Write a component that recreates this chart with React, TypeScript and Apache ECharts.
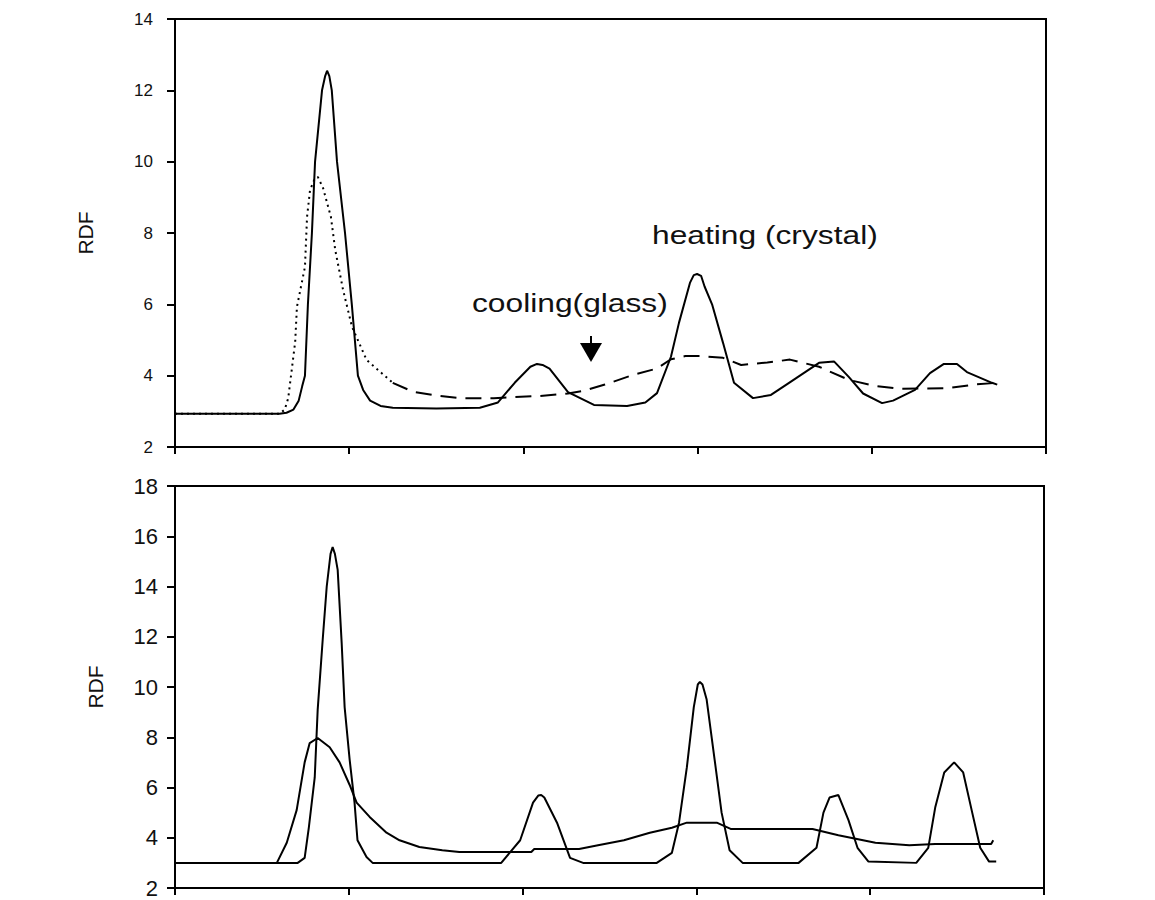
import React, { useEffect, useRef } from "react";
import * as echarts from "echarts";

// ---- Top panel (heating: crystal solid, cooling: glass dotted/dashed) ----
const topHeatX = [0, 0.6, 0.64, 0.68, 0.71, 0.73, 0.746, 0.763, 0.786, 0.804, 0.844, 0.862, 0.873, 0.886, 0.9, 0.93, 0.976, 1.015, 1.05, 1.08, 1.12, 1.18, 1.25, 1.5, 1.75, 1.854, 1.95, 2.04, 2.078, 2.11, 2.15, 2.256, 2.405, 2.595, 2.7, 2.767, 2.847, 2.893, 2.956, 2.978, 2.997, 3.02, 3.04, 3.083, 3.146, 3.209, 3.318, 3.421, 3.525, 3.697, 3.783, 3.869, 3.95, 4.059, 4.122, 4.248, 4.334, 4.414, 4.489, 4.546, 4.69, 4.72];
const topHeatY = [2.93, 2.93, 2.96, 3.05, 3.3, 3.7, 4.0, 6.0, 8.0, 10.0, 12.0, 12.4, 12.55, 12.4, 12.0, 10.0, 8.0, 6.0, 4.0, 3.6, 3.3, 3.15, 3.1, 3.08, 3.1, 3.25, 3.8, 4.25, 4.33, 4.3, 4.2, 3.54, 3.18, 3.15, 3.25, 3.51, 4.53, 5.48, 6.6, 6.82, 6.85, 6.8, 6.5, 6.0, 4.92, 3.8, 3.37, 3.46, 3.8, 4.36, 4.4, 3.96, 3.5, 3.23, 3.3, 3.6, 4.07, 4.33, 4.33, 4.1, 3.8, 3.75];

const topCoolX = [0, 0.6, 0.63, 0.65, 0.69, 0.7, 0.746, 0.758, 0.775, 0.8, 0.82, 0.85, 0.895, 0.92, 0.965, 1.016, 1.1, 1.25, 1.366, 1.52, 1.64, 1.83, 2.09, 2.256, 2.342, 2.468, 2.635, 2.767, 2.847, 2.93, 3.02, 3.146, 3.25, 3.4, 3.53, 3.697, 3.869, 4.01, 4.16, 4.437, 4.587, 4.72];
const topCoolY = [2.93, 2.93, 3.05, 3.37, 4.95, 5.93, 7.05, 8.45, 9.2, 9.5, 9.57, 9.26, 8.45, 7.52, 6.4, 5.37, 4.44, 3.8, 3.55, 3.43, 3.37, 3.37, 3.43, 3.5, 3.57, 3.75, 4.03, 4.2, 4.46, 4.55, 4.55, 4.5, 4.3, 4.37, 4.45, 4.25, 3.88, 3.72, 3.63, 3.65, 3.75, 3.8];
const topCoolDottedUntil = 1.3;

// ---- Bottom panel ----
const botCrystalX = [0, 0.706, 0.746, 0.77, 0.804, 0.821, 0.85, 0.873, 0.895, 0.907, 0.92, 0.936, 0.959, 0.976, 1.005, 1.033, 1.05, 1.102, 1.137, 1.877, 1.986, 2.06, 2.09, 2.107, 2.125, 2.198, 2.273, 2.348, 2.772, 2.859, 2.9, 2.945, 2.985, 3.008, 3.02, 3.035, 3.059, 3.105, 3.145, 3.191, 3.266, 3.588, 3.691, 3.731, 3.766, 3.817, 3.875, 3.927, 3.99, 4.265, 4.334, 4.374, 4.426, 4.483, 4.535, 4.587, 4.633, 4.684, 4.725];
const botCrystalY = [3.0, 3.0, 3.2, 4.4, 6.4, 9.1, 11.9, 14.0, 15.3, 15.57, 15.3, 14.66, 11.75, 9.2, 7.1, 5.4, 3.9, 3.23, 3.0, 3.0, 3.9, 5.4, 5.68, 5.7, 5.6, 4.6, 3.2, 3.0, 3.0, 3.4, 4.6, 6.8, 9.2, 10.1, 10.2, 10.1, 9.5, 7.1, 5.0, 3.5, 3.0, 3.0, 3.6, 5.0, 5.6, 5.7, 4.7, 3.6, 3.05, 3.0, 3.6, 5.2, 6.6, 7.0, 6.6, 5.0, 3.6, 3.05, 3.05];

const botGlassX = [0, 0.586, 0.643, 0.7, 0.746, 0.775, 0.821, 0.89, 0.947, 1.005, 1.045, 1.12, 1.217, 1.292, 1.406, 1.538, 1.636, 2.05, 2.067, 2.325, 2.434, 2.583, 2.732, 2.859, 2.945, 3.117, 3.197, 3.668, 3.817, 4.03, 4.225, 4.374, 4.696, 4.708];
const botGlassY = [3.0, 3.0, 3.8, 5.1, 7.0, 7.77, 7.97, 7.6, 7.0, 6.1, 5.4, 4.83, 4.2, 3.9, 3.63, 3.5, 3.43, 3.43, 3.55, 3.55, 3.7, 3.9, 4.2, 4.4, 4.6, 4.6, 4.35, 4.35, 4.1, 3.8, 3.7, 3.75, 3.75, 3.9];

const topYTicks = { min: 2, max: 14, interval: 2 };
const botYTicks = { min: 2, max: 18, interval: 2 };
const xRange = { min: 0, max: 5, interval: 1 };

const zip = (xs: number[], ys: number[]) => xs.map((x, i) => [x, ys[i]]);

const FONT = "'Liberation Sans', Arial, sans-serif";

export default function App() {
  const ref = useRef<HTMLDivElement>(null);
  useEffect(() => {
    if (!ref.current) return;
    const chart = echarts.init(ref.current, undefined, { renderer: "svg" });

    const cool = zip(topCoolX, topCoolY);
    const split = topCoolX.findIndex((x) => x > topCoolDottedUntil);
    const coolDotted = cool.slice(0, split);
    const coolDashed = cool.slice(split - 1);

    const axisLineStyle = { color: "#000", width: 2 };
    const xAxisBase = {
      type: "value" as const,
      ...xRange,
      axisLine: { show: true, lineStyle: axisLineStyle, onZero: false },
      axisTick: { show: true, inside: false, length: 7, lineStyle: axisLineStyle },
      axisLabel: { show: false },
      splitLine: { show: false },
    };
    const yAxisBase = {
      type: "value" as const,
      axisLine: { show: true, lineStyle: axisLineStyle, onZero: false },
      axisTick: { show: true, inside: false, length: 8, lineStyle: axisLineStyle },
      splitLine: { show: false },
    };
    const lineBase = {
      type: "line" as const,
      showSymbol: false,
      symbol: "none",
      smooth: false,
      color: "#000",
    };

    chart.setOption({
      animation: false,
      backgroundColor: "#fff",
      grid: [
        { left: 175, top: 19, width: 871, height: 428, show: true, borderColor: "#000", borderWidth: 2, backgroundColor: "transparent" },
        { left: 175, top: 486, width: 869, height: 402, show: true, borderColor: "#000", borderWidth: 2, backgroundColor: "transparent" },
      ],
      xAxis: [
        { ...xAxisBase, gridIndex: 0 },
        { ...xAxisBase, gridIndex: 1 },
      ],
      yAxis: [
        {
          ...yAxisBase,
          gridIndex: 0,
          ...topYTicks,
          axisLabel: { margin: 22, fontSize: 17, color: "#111", fontFamily: FONT },
        },
        {
          ...yAxisBase,
          gridIndex: 1,
          ...botYTicks,
          axisLabel: { margin: 17, fontSize: 22, color: "#111", fontFamily: FONT },
        },
      ],
      series: [
        { ...lineBase, name: "heating (crystal)", xAxisIndex: 0, yAxisIndex: 0, data: zip(topHeatX, topHeatY), lineStyle: { color: "#000", width: 2 } },
        { ...lineBase, name: "cooling (glass) dotted", xAxisIndex: 0, yAxisIndex: 0, data: coolDotted, lineStyle: { color: "#000", width: 2, type: [2, 4] } },
        { ...lineBase, name: "cooling (glass)", xAxisIndex: 0, yAxisIndex: 0, data: coolDashed, lineStyle: { color: "#000", width: 2, type: [16, 9] } },
        { ...lineBase, name: "crystal", xAxisIndex: 1, yAxisIndex: 1, data: zip(botCrystalX, botCrystalY), lineStyle: { color: "#000", width: 2 } },
        { ...lineBase, name: "glass", xAxisIndex: 1, yAxisIndex: 1, data: zip(botGlassX, botGlassY), lineStyle: { color: "#000", width: 2 } },
      ],
      graphic: [
        {
          type: "text",
          x: 85,
          y: 233,
          rotation: Math.PI / 2,
          style: { text: "RDF", fontSize: 21, fontFamily: FONT, fill: "#111", textAlign: "center", textVerticalAlign: "middle" },
        },
        {
          type: "text",
          x: 95,
          y: 687,
          rotation: Math.PI / 2,
          style: { text: "RDF", fontSize: 21, fontFamily: FONT, fill: "#111", textAlign: "center", textVerticalAlign: "middle" },
        },
        {
          type: "text",
          x: 652,
          y: 235,
          scaleX: 1.27,
          style: { text: "heating (crystal)", fontSize: 25, fontFamily: FONT, fill: "#111", textAlign: "left", textVerticalAlign: "middle" },
        },
        {
          type: "text",
          x: 472,
          y: 303,
          scaleX: 1.27,
          style: { text: "cooling(glass)", fontSize: 25, fontFamily: FONT, fill: "#111", textAlign: "left", textVerticalAlign: "middle" },
        },
        {
          type: "line",
          shape: { x1: 591, y1: 336, x2: 591, y2: 345 },
          style: { stroke: "#000", lineWidth: 2 },
        },
        {
          type: "polygon",
          shape: { points: [[580, 343], [602, 343], [591, 362]] },
          style: { fill: "#000" },
        },
      ],
    });

    return () => chart.dispose();
  }, []);

  return (
    <div
      ref={ref}
      style={{ position: "absolute", left: 0, top: 0, width: 1155, height: 900, background: "#fff" }}
    />
  );
}
